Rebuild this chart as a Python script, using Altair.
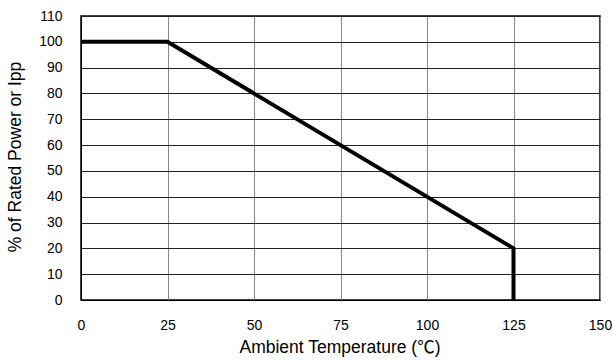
import altair as alt
import pandas as pd

temps = [0, 25, 125, 125]
power = [100, 100, 20, 0]
order = [0, 1, 2, 3]
x_ticks = [0, 25, 50, 75, 100, 125, 150]
y_ticks = [0, 10, 20, 30, 40, 50, 60, 70, 80, 90, 100, 110]

df = pd.DataFrame({"temp": temps, "power": power, "order": order})

FONT = "Liberation Sans, Arial, 'Noto Sans CJK SC'"

chart = alt.Chart(df).mark_line(color="black", strokeWidth=4, strokeJoin="miter", strokeCap="butt", clip=False).encode(
    x=alt.X("temp:Q", scale=alt.Scale(domain=[0, 150], nice=False),
            axis=alt.Axis(values=x_ticks, title="Ambient Temperature (℃)", grid=True,
                          gridColor="#888888", gridWidth=1, gridOpacity=1,
                          ticks=False, labelPadding=18, labelFlush=False, labelOverlap=False,
                          domain=True, domainColor="black",
                          labelFont=FONT, labelFontSize=14, labelColor="black",
                          titleFont=FONT, titleFontSize=17.5, titleFontWeight="normal",
                          titleColor="black", titleX=258.5, titleY=52,
                          titleAlign="center", titleBaseline="alphabetic")),
    y=alt.Y("power:Q", scale=alt.Scale(domain=[0, 110], nice=False),
            axis=alt.Axis(values=y_ticks, title="% of Rated Power or Ipp", grid=True,
                          gridColor="#222222", gridWidth=1, gridOpacity=1,
                          ticks=False, labelPadding=19, labelFlush=False, labelOverlap=False,
                          domain=True, domainColor="black",
                          labelFont=FONT, labelFontSize=14, labelColor="black",
                          titleFont=FONT, titleFontSize=17.5, titleFontWeight="normal",
                          titleColor="black", titleAngle=270, titleX=-66, titleY=140.5,
                          titleAlign="center", titleBaseline="middle")),
    order="order:O",
).properties(
    width=519, height=284,
    padding={"left": 81, "top": 16, "right": 12, "bottom": 60},
    autosize=alt.AutoSizeParams(type="none"),
).configure_view(stroke="black", strokeWidth=1.5)

chart.save("out.html", embed_options={"renderer": "svg", "actions": False})
